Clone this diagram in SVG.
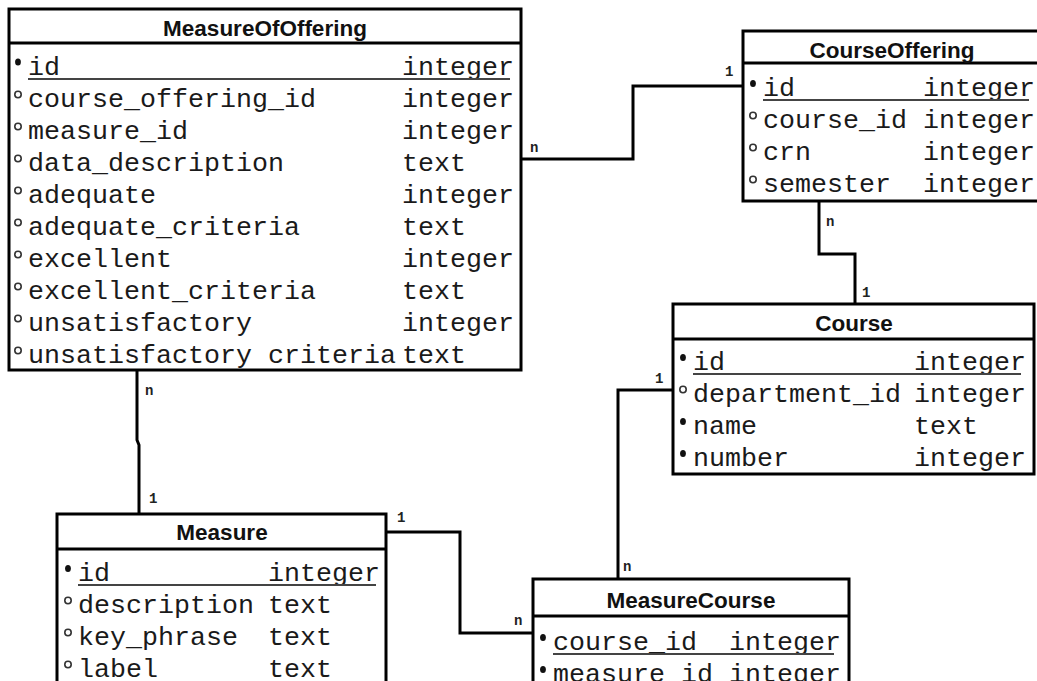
<svg xmlns="http://www.w3.org/2000/svg" xmlns:xlink="http://www.w3.org/1999/xlink" width="1037" height="681" viewBox="0 0 1037 681">
<style>
.box{fill:#fff;stroke:#000;stroke-width:3}
.sep{stroke:#000;stroke-width:3}
.title{font-family:"Liberation Sans",Arial,sans-serif;font-weight:bold;font-size:22.5px;fill:#111;text-anchor:middle}
.f{font-family:"Liberation Mono","Courier New",monospace;font-size:26.67px;fill:#1a1a1a}
.ul{stroke:#444;stroke-width:2}
.conn{fill:none;stroke:#000;stroke-width:3}
.lbl{font-family:"Liberation Mono","Courier New",monospace;font-weight:bold;font-size:14px;fill:#222}
.pk{fill:#111}
.op{fill:#fff;stroke:#333;stroke-width:1.6}
</style>
<defs>
<ellipse id="bf" class="pk" cx="0" cy="0" rx="2.9" ry="3.6"/>
<circle id="bo" class="op" cx="0" cy="0" r="3.2"/>
</defs>
<rect width="1037" height="681" fill="#fff"/>

<g id="connectors">
<path class="conn" d="M521 159 H633 V86 H743"/>
<path class="conn" d="M819 201 V254 H855 V304"/>
<path class="conn" d="M137 370 V440 L139 445 V514"/>
<path class="conn" d="M386 532 H460 V633 H533"/>
<path class="conn" d="M673 390 H618 V579"/>
<text class="lbl" x="530" y="152">n</text>
<text class="lbl" x="725" y="76">1</text>
<text class="lbl" x="826" y="226">n</text>
<text class="lbl" x="862" y="297">1</text>
<text class="lbl" x="145" y="395">n</text>
<text class="lbl" x="149" y="503">1</text>
<text class="lbl" x="397" y="522">1</text>
<text class="lbl" x="514" y="625">n</text>
<text class="lbl" x="655" y="383">1</text>
<text class="lbl" x="623" y="571">n</text>
</g>

<g id="MeasureOfOffering">
<rect class="box" x="9" y="9" width="512" height="361"/>
<line class="sep" x1="9" y1="43" x2="521" y2="43"/>
<text class="title" x="265" y="36">MeasureOfOffering</text>
<use xlink:href="#bf" x="18" y="62"/>
<text class="f" x="28" y="75">id</text><text class="f" x="402" y="75">integer</text>
<line class="ul" x1="28" y1="79" x2="510" y2="79"/>
<use xlink:href="#bo" x="18" y="94.5"/>
<text class="f" x="28" y="107">course_offering_id</text><text class="f" x="402" y="107">integer</text>
<use xlink:href="#bo" x="18" y="126.5"/>
<text class="f" x="28" y="139">measure_id</text><text class="f" x="402" y="139">integer</text>
<use xlink:href="#bo" x="18" y="158.5"/>
<text class="f" x="28" y="171">data_description</text><text class="f" x="402" y="171">text</text>
<use xlink:href="#bo" x="18" y="190.5"/>
<text class="f" x="28" y="203">adequate</text><text class="f" x="402" y="203">integer</text>
<use xlink:href="#bo" x="18" y="222.5"/>
<text class="f" x="28" y="235">adequate_criteria</text><text class="f" x="402" y="235">text</text>
<use xlink:href="#bo" x="18" y="254.5"/>
<text class="f" x="28" y="267">excellent</text><text class="f" x="402" y="267">integer</text>
<use xlink:href="#bo" x="18" y="286.5"/>
<text class="f" x="28" y="299">excellent_criteria</text><text class="f" x="402" y="299">text</text>
<use xlink:href="#bo" x="18" y="318.5"/>
<text class="f" x="28" y="331">unsatisfactory</text><text class="f" x="402" y="331">integer</text>
<use xlink:href="#bo" x="18" y="350.5"/>
<text class="f" x="28" y="363">unsatisfactory criteria</text><text class="f" x="402" y="363">text</text>
</g>

<g id="CourseOffering">
<rect class="box" x="743" y="31" width="302" height="170"/>
<line class="sep" x1="743" y1="63" x2="1045" y2="63"/>
<text class="title" x="892" y="58">CourseOffering</text>
<use xlink:href="#bf" x="753" y="83.5"/>
<text class="f" x="763" y="96">id</text><text class="f" x="923" y="96">integer</text>
<line class="ul" x1="763" y1="100" x2="1029" y2="100"/>
<use xlink:href="#bo" x="753" y="115.5"/>
<text class="f" x="763" y="128">course_id</text><text class="f" x="923" y="128">integer</text>
<use xlink:href="#bo" x="753" y="147.5"/>
<text class="f" x="763" y="160">crn</text><text class="f" x="923" y="160">integer</text>
<use xlink:href="#bo" x="753" y="179.5"/>
<text class="f" x="763" y="192">semester</text><text class="f" x="923" y="192">integer</text>
</g>

<g id="Course">
<rect class="box" x="673" y="304" width="361" height="170"/>
<line class="sep" x1="673" y1="339" x2="1034" y2="339"/>
<text class="title" x="854" y="331">Course</text>
<use xlink:href="#bf" x="683" y="357.5"/>
<text class="f" x="693" y="370">id</text><text class="f" x="914" y="370">integer</text>
<line class="ul" x1="693" y1="374" x2="1021" y2="374"/>
<use xlink:href="#bo" x="683" y="389.5"/>
<text class="f" x="693" y="402">department_id</text><text class="f" x="914" y="402">integer</text>
<use xlink:href="#bf" x="683" y="421.5"/>
<text class="f" x="693" y="434">name</text><text class="f" x="914" y="434">text</text>
<use xlink:href="#bf" x="683" y="453.5"/>
<text class="f" x="693" y="466">number</text><text class="f" x="914" y="466">integer</text>
</g>

<g id="Measure">
<rect class="box" x="57" y="514" width="329" height="190"/>
<line class="sep" x1="57" y1="549" x2="386" y2="549"/>
<text class="title" x="222" y="540">Measure</text>
<use xlink:href="#bf" x="68" y="568.5"/>
<text class="f" x="78" y="581">id</text><text class="f" x="268" y="581">integer</text>
<line class="ul" x1="78" y1="585" x2="376" y2="585"/>
<use xlink:href="#bo" x="68" y="600.5"/>
<text class="f" x="78" y="613">description</text><text class="f" x="268" y="613">text</text>
<use xlink:href="#bo" x="68" y="632.5"/>
<text class="f" x="78" y="645">key_phrase</text><text class="f" x="268" y="645">text</text>
<use xlink:href="#bo" x="68" y="664.5"/>
<text class="f" x="78" y="677">label</text><text class="f" x="268" y="677">text</text>
</g>

<g id="MeasureCourse">
<rect class="box" x="533" y="579" width="316" height="130"/>
<line class="sep" x1="533" y1="616" x2="849" y2="616"/>
<text class="title" x="691" y="608">MeasureCourse</text>
<use xlink:href="#bf" x="543" y="637.5"/>
<text class="f" x="553" y="650">course_id</text><text class="f" x="729" y="650">integer</text>
<line class="ul" x1="553" y1="654" x2="834" y2="654"/>
<use xlink:href="#bf" x="543" y="669.5"/>
<text class="f" x="553" y="682">measure_id</text><text class="f" x="729" y="682">integer</text>
<line class="ul" x1="553" y1="686" x2="834" y2="686"/>
</g>
</svg>
